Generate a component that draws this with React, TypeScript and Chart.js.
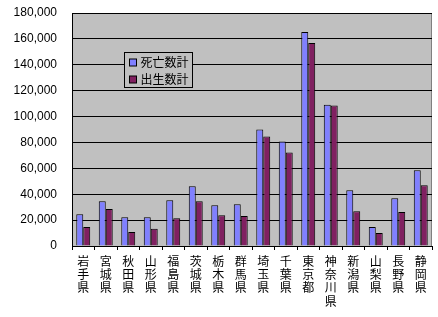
import React, { useEffect, useRef } from "react";
import { Chart, registerables } from "chart.js";

Chart.register(...registerables);

const categories = ["岩手県", "宮城県", "秋田県", "山形県", "福島県", "茨城県", "栃木県", "群馬県", "埼玉県", "千葉県", "東京都", "神奈川県", "新潟県", "山梨県", "長野県", "静岡県"];
const deaths = [24600, 34600, 22300, 22300, 35400, 46200, 31500, 32300, 90000, 80800, 165400, 109200, 43100, 14600, 36900, 58500];
const births = [14600, 28500, 10800, 13300, 21500, 34600, 23800, 23100, 84600, 72300, 156900, 108500, 26900, 10000, 26200, 46900];
const seriesNames = ["死亡数計", "出生数計"];
const seriesColors = ["#8080FF", "#802060"];

const FONT = "'Liberation Sans', 'Noto Sans CJK JP', sans-serif";

const bgPlugin = {
  id: "bgPlugin",
  beforeDraw(chart: any) {
    const { ctx, chartArea: a } = chart;
    ctx.save();
    ctx.fillStyle = "#C0C0C0";
    ctx.fillRect(a.left, a.top, a.right - a.left, a.bottom - a.top);
    ctx.strokeStyle = "#808080";
    ctx.lineWidth = 1;
    ctx.beginPath();
    ctx.moveTo(a.left, a.top + 0.5);
    ctx.lineTo(a.right - 0.5, a.top + 0.5);
    ctx.lineTo(a.right - 0.5, a.bottom);
    ctx.stroke();
    ctx.restore();
  },
  afterDraw(chart: any) {
    const { ctx, chartArea: a } = chart;
    const x = a.left + 52.5;
    const y = a.top + 39.5;
    const w = 68;
    const h = 35;
    ctx.save();
    ctx.fillStyle = "#C0C0C0";
    ctx.fillRect(x, y, w, h);
    ctx.strokeStyle = "#000";
    ctx.lineWidth = 1;
    ctx.strokeRect(x, y, w, h);
    ctx.font = "12px 'Noto Sans CJK JP', sans-serif";
    ctx.textBaseline = "middle";
    seriesNames.forEach((n, i) => {
      const cy = y + 10 + i * 17;
      ctx.fillStyle = seriesColors[i];
      ctx.fillRect(x + 5, cy - 3.5, 7, 7);
      ctx.strokeRect(x + 5, cy - 3.5, 7, 7);
      ctx.fillStyle = "#000";
      ctx.fillText(n, x + 16, cy);
    });
    ctx.restore();
  },
};

export default function App() {
  const ref = useRef<HTMLCanvasElement>(null);
  useEffect(() => {
    const chart = new Chart(ref.current!, {
      type: "bar",
      data: {
        labels: categories.map((c) => c.split("")),
        datasets: [
          { label: seriesNames[0], data: deaths, backgroundColor: seriesColors[0], borderColor: "#000", borderWidth: 1 },
          { label: seriesNames[1], data: births, backgroundColor: seriesColors[1], borderColor: "#000", borderWidth: 1 },
        ],
      },
      options: {
        animation: false,
        responsive: false,
        maintainAspectRatio: false,
        layout: { padding: { top: 13, right: 6, left: 0, bottom: 0 } },
        datasets: { bar: { categoryPercentage: 0.62, barPercentage: 1.0 } },
        plugins: { legend: { display: false }, tooltip: { enabled: false } },
        scales: {
          x: {
            afterFit: (s: any) => { s.height = 71; s.paddingLeft = 0; s.paddingRight = 0; },
            grid: { display: true, offset: true, drawOnChartArea: false, drawTicks: true, tickLength: 4, color: "#000" },
            border: { color: "#000", width: 1 },
            ticks: { color: "#000", maxRotation: 0, minRotation: 0, autoSkip: false, padding: 6, font: { family: FONT, size: 12, lineHeight: 1.1 } },
          },
          y: {
            min: 0,
            max: 180000,
            afterFit: (s: any) => { s.width = 72; s.paddingTop = 0; s.paddingBottom = 0; },
            grid: { color: "#000", drawTicks: false },
            border: { color: "#000", width: 1 },
            ticks: {
              stepSize: 20000,
              color: "#000",
              padding: 15,
              font: { family: FONT, size: 12 },
              callback: (v: any) => Number(v).toLocaleString("en-US"),
            },
          },
        },
      },
      plugins: [bgPlugin],
    });
    return () => chart.destroy();
  }, []);
  return (
    <div style={{ position: "fixed", left: 0, top: 0, width: 438, height: 317, background: "#fff" }}>
      <canvas ref={ref} width={438} height={317} style={{ width: 438, height: 317 }} />
    </div>
  );
}
